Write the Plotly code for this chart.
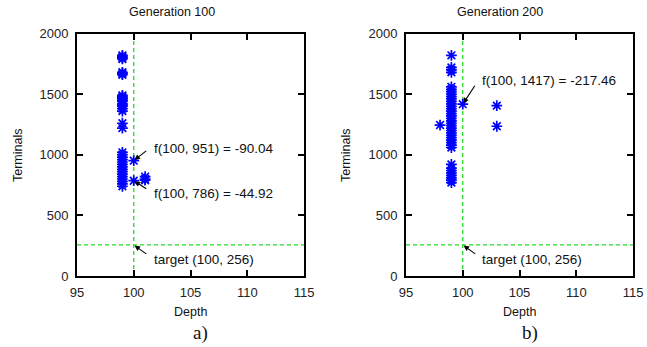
import plotly.graph_objects as go

# ---- data ----
# Generation 100 (panel a)
g100_depth = [99]*4 + [99]*3 + [99]*11 + [99]*2 + [99]*15 + [100, 100] + [101]*3
g100_terms = [1790, 1800, 1810, 1820,
              1660, 1670, 1680,
              1360, 1380, 1400, 1410, 1420, 1440, 1450, 1460, 1470, 1480, 1490,
              1220, 1260,
              740, 760, 780, 800, 820, 840, 860, 880, 900, 920, 940, 960, 980, 1000, 1020,
              951, 786,
              790, 800, 820]

# Generation 200 (panel b)
g200_depth = [99] + [99]*3 + [99]*26 + [99]*8 + [98] + [103, 103] + [100]
g200_terms = [1820,
              1680, 1700, 1720,
              1060, 1080, 1100, 1120, 1140, 1160, 1180, 1200, 1220, 1240, 1260, 1280, 1300,
              1320, 1340, 1360, 1380, 1400, 1420, 1440, 1460, 1480, 1500, 1520, 1540, 1560,
              770, 790, 810, 830, 850, 870, 890, 920,
              1245,
              1405, 1235,
              1417]

x_ticks = [95, 100, 105, 110, 115]
y_ticks = [0, 500, 1000, 1500, 2000]
target = (100, 256)
panel_titles = ["Generation 100", "Generation 200"]
panel_labels = ["a)", "b)"]

W, H = 647, 347
FONT = "Liberation Sans, Arial, sans-serif"
BLUE = "#0000ff"
GREEN = "#22dd22"

fig = go.Figure()
for xs, ys, xa, ya in [(g100_depth, g100_terms, "x", "y"), (g200_depth, g200_terms, "x2", "y2")]:
    fig.add_trace(go.Scatter(x=xs, y=ys, mode="markers", xaxis=xa, yaxis=ya,
                             marker=dict(symbol="asterisk-open", size=9, color=BLUE,
                                         line=dict(color=BLUE, width=1.7)),
                             showlegend=False))

xdom = [[77/W, 304/W], [406/W, 633/W]]
ydom = [1 - 276/H, 1 - 33.5/H]

axcommon = dict(showline=True, linecolor="black", linewidth=2, mirror="ticks",
                ticks="inside", ticklen=6, tickwidth=1.5, tickcolor="black",
                showgrid=False, zeroline=False, automargin=False,
                tickfont=dict(family=FONT, size=13, color="#222"))

fig.update_layout(
    width=W, height=H, margin=dict(l=0, r=0, t=0, b=0),
    paper_bgcolor="white", plot_bgcolor="white",
    xaxis=dict(domain=xdom[0], range=[95, 115], tickvals=x_ticks, anchor="y",
               ticklabelstandoff=3, **axcommon),
    yaxis=dict(domain=ydom, range=[0, 2000], tickvals=y_ticks, anchor="x",
               ticklabelstandoff=4, **axcommon),
    xaxis2=dict(domain=xdom[1], range=[95, 115], tickvals=x_ticks, anchor="y2",
                ticklabelstandoff=3, **axcommon),
    yaxis2=dict(domain=ydom, range=[0, 2000], tickvals=y_ticks, anchor="x2",
                ticklabelstandoff=4, **axcommon),
)

shapes = []
for xa, ya in [("x", "y"), ("x2", "y2")]:
    shapes.append(dict(type="line", xref=xa, yref=ya, x0=target[0], x1=target[0], y0=0, y1=2000,
                       line=dict(color=GREEN, width=1.3, dash="4px,3px"), layer="below"))
    shapes.append(dict(type="line", xref=xa, yref=ya, x0=95, x1=115, y0=target[1], y1=target[1],
                       line=dict(color=GREEN, width=1.3, dash="4px,3px"), layer="below"))
fig.update_layout(shapes=shapes)

ann = []
tf = dict(family=FONT, size=13.5, color="#111")
titf = dict(family=FONT, size=12.5, color="#111")

def arrow(xa, ya, x, y, ax, ay):
    ann.append(dict(xref=xa, yref=ya, x=x, y=y, ax=ax, ay=ay, text="", showarrow=True,
                    arrowhead=2, arrowsize=1, arrowwidth=1.1, arrowcolor="black", standoff=1))

def label(xa, ya, x, y, t):
    ann.append(dict(xref=xa, yref=ya, x=x, y=y, text=t, showarrow=False,
                    xanchor="left", yanchor="middle", font=tf))

# panel a
arrow("x", "y", 100, 951, 14, -11)
label("x", "y", 101.6, 1053, "f(100, 951) = -90.04")
arrow("x", "y", 100, 786, 14, 9)
label("x", "y", 101.6, 682, "f(100, 786) = -44.92")
arrow("x", "y", 100, 256, 14, 10)
label("x", "y", 101.6, 132, "target (100, 256)")
# panel b
arrow("x2", "y2", 100, 1417, 13, -20)
label("x2", "y2", 101.5, 1616, "f(100, 1417) = -217.46")
arrow("x2", "y2", 100, 256, 14, 10)
label("x2", "y2", 101.5, 132, "target (100, 256)")

title_cx = [172, 500]
depth_cx = [190, 519]
for i in range(2):
    ann.append(dict(xref="paper", yref="paper", x=title_cx[i]/W, y=1 - 12/H, text=panel_titles[i],
                    showarrow=False, xanchor="center", yanchor="middle", font=titf))
    ann.append(dict(xref="paper", yref="paper", x=depth_cx[i]/W, y=1 - 312/H, text="Depth",
                    showarrow=False, xanchor="center", yanchor="middle", font=titf))
    ann.append(dict(xref="paper", yref="paper", x=[200/W, 530/W][i], y=1 - 333/H, text=panel_labels[i],
                    showarrow=False, xanchor="center", yanchor="middle",
                    font=dict(family="Liberation Serif, Times New Roman, serif", size=19, color="#111")))
    ann.append(dict(xref="paper", yref="paper", x=[18/W, 346/W][i], y=1 - 155/H, text="Terminals",
                    showarrow=False, xanchor="center", yanchor="middle", textangle=-90, font=titf))

fig.update_layout(annotations=ann)
fig.write_html("out.html", config={"displayModeBar": False},
               post_script="document.body.style.margin='0';document.body.style.overflow='hidden';")
